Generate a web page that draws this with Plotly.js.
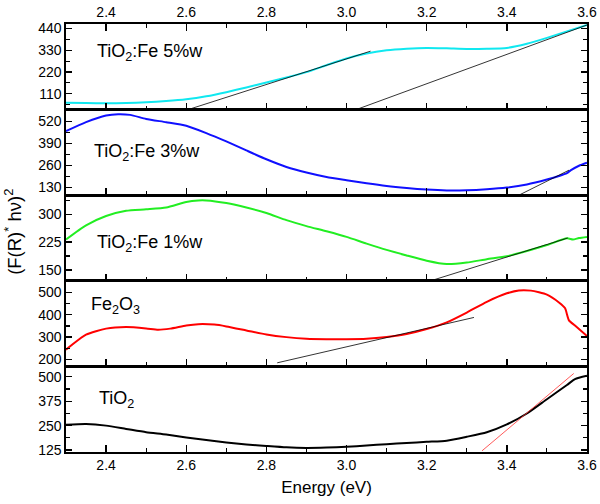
<!DOCTYPE html>
<html>
<head>
<meta charset="utf-8">
<script src="https://cdn.plot.ly/plotly-3.0.1.min.js"></script>
<style>
  body { margin: 0; background: #fff; }
  #chart { width: 600px; height: 504px; }
</style>
</head>
<body>
<div id="chart"></div>
<script>
// Data (energy in eV)
const tio2X = [2.3, 2.35, 2.4, 2.45, 2.5, 2.55, 2.6, 2.65, 2.7, 2.75, 2.8, 2.85, 2.9, 2.95, 3.0, 3.05, 3.1, 3.15, 3.2, 3.25, 3.3, 3.35, 3.4, 3.45, 3.5, 3.55, 3.57, 3.6];
const tio2Y = [254, 258, 250, 233, 216, 204, 189, 176, 164, 154, 146, 139, 136, 138, 142, 148, 155, 161, 167, 173, 193, 216, 256, 312, 385, 458, 488, 505];

const fe2o3X = [2.3, 2.35, 2.4, 2.45, 2.5, 2.53, 2.56, 2.6, 2.63, 2.67, 2.7, 2.75, 2.8, 2.85, 2.9, 2.95, 3.0, 3.05, 3.1, 3.15, 3.2, 3.25, 3.3, 3.35, 3.4, 3.43, 3.46, 3.5, 3.53, 3.545, 3.555, 3.57, 3.6];
const fe2o3Y = [244, 311, 338, 345, 339, 333, 338, 352, 358, 356, 348, 330, 312, 300, 293, 291, 291, 293, 301, 314, 336, 366, 410, 458, 496, 509, 508, 490, 455, 430, 375, 352, 305];

const fe1X = [2.3, 2.35, 2.4, 2.45, 2.5, 2.55, 2.6, 2.63, 2.65, 2.7, 2.75, 2.8, 2.85, 2.9, 2.95, 3.0, 3.05, 3.1, 3.15, 3.2, 3.25, 3.3, 3.35, 3.4, 3.45, 3.5, 3.55, 3.565, 3.58, 3.6];
const fe1Y = [232, 270, 295, 309, 313, 318, 333, 337, 337, 330, 318, 303, 284, 268, 254, 239, 221, 204, 189, 175, 166, 170, 179, 187, 201, 217, 235, 232, 236, 239];

const fe3X = [2.3, 2.35, 2.4, 2.43, 2.46, 2.5, 2.55, 2.6, 2.65, 2.7, 2.75, 2.8, 2.85, 2.9, 2.95, 3.0, 3.05, 3.1, 3.15, 3.2, 3.25, 3.3, 3.35, 3.4, 3.45, 3.5, 3.53, 3.55, 3.56, 3.58, 3.6];
const fe3Y = [461, 514, 553, 561, 557, 533, 514, 493, 450, 401, 348, 296, 251, 218, 192, 173, 155, 139, 127, 118, 113, 114, 120, 130, 148, 177, 198, 215, 232, 258, 276];

const fe5X = [2.3, 2.35, 2.4, 2.45, 2.5, 2.55, 2.6, 2.65, 2.7, 2.75, 2.8, 2.85, 2.9, 2.95, 3.0, 3.05, 3.1, 3.15, 3.2, 3.25, 3.3, 3.35, 3.4, 3.45, 3.5, 3.55, 3.6];
const fe5Y = [65, 63, 62, 63, 67, 73, 82, 97, 118, 142, 167, 192, 219, 254, 288, 313, 329, 337, 341, 339, 336, 337, 341, 362, 392, 425, 457];

// tangent (band gap) lines
const tio2FitX = [3.338, 3.567], tio2FitY = [121, 517];
const fe2o3FitX = [2.827, 3.318], fe2o3FitY = [185, 388];
const fe1FitX = [3.21, 3.552], fe1FitY = [121, 236];
const fe3FitX = [3.43, 3.555], fe3FitY = [85, 232];
const fe5FitAX = [2.6, 3.06], fe5FitAY = [27, 325];
const fe5FitBX = [3.02, 3.6], fe5FitBY = [27, 457];

const labels = ['TiO<sub>2</sub>', 'Fe<sub>2</sub>O<sub>3</sub>', 'TiO<sub>2</sub>:Fe 1%w', 'TiO<sub>2</sub>:Fe 3%w', 'TiO<sub>2</sub>:Fe 5%w'];

const FONT = 'Liberation Sans, Arial, sans-serif';

function curve(x, y, color, n) {
  return {x: x, y: y, type: 'scatter', mode: 'lines', xaxis: n === 1 ? 'x' : 'x' + n, yaxis: n === 1 ? 'y' : 'y' + n,
    line: {color: color, width: 2, shape: 'spline', smoothing: 0.6}, hoverinfo: 'skip'};
}
function fit(x, y, color, n) {
  return {x: x, y: y, type: 'scatter', mode: 'lines', xaxis: n === 1 ? 'x' : 'x' + n, yaxis: n === 1 ? 'y' : 'y' + n,
    line: {color: color, width: 0.8}, hoverinfo: 'skip'};
}

var data = [
  curve(tio2X, tio2Y, '#000000', 1),
  fit(tio2FitX, tio2FitY, '#ff3030', 1),
  curve(fe2o3X, fe2o3Y, '#ff0000', 2),
  fit(fe2o3FitX, fe2o3FitY, '#000000', 2),
  curve(fe1X, fe1Y, '#22ee22', 3),
  fit(fe1FitX, fe1FitY, '#000000', 3),
  curve(fe3X, fe3Y, '#1010ff', 4),
  fit(fe3FitX, fe3FitY, '#000000', 4),
  curve(fe5X, fe5Y, '#10e8f0', 5),
  fit(fe5FitAX, fe5FitAY, '#000000', 5),
  fit(fe5FitBX, fe5FitBY, '#000000', 5)
];

function xAxis(n) {
  var ax = {
    range: [2.3, 3.6], anchor: n === 1 ? 'y' : 'y' + n,
    showline: true, linecolor: '#000', linewidth: 1.6, mirror: true,
    ticks: 'inside', ticklen: 7, tickwidth: 1.3, tickcolor: '#000',
    dtick: 0.2, tick0: 0, tickformat: '.1f',
    minor: {ticks: 'inside', ticklen: 4, tickwidth: 1.1, dtick: 0.1, tickcolor: '#000'},
    showgrid: false, zeroline: false,
    showticklabels: n === 1,
    tickfont: {family: FONT, size: 14, color: '#000'}
  };
  if (n === 1) {
    ax.title = {text: 'Energy (eV)', font: {family: FONT, size: 17, color: '#000'}, standoff: 8};
  }
  if (n === 5) {
    ax.side = 'top';
    ax.mirror = 'ticks';
    ax.showticklabels = true;
  }
  return ax;
}

const yRanges = [[115, 553], [169, 552], [121, 351], [85, 588], [30, 462]];
const yDticks = [125, 100, 75, 130, 110];

function yAxis(n) {
  return {
    domain: [(n - 1) * 0.2, n * 0.2], anchor: n === 1 ? 'x' : 'x' + n,
    range: yRanges[n - 1], dtick: yDticks[n - 1], tick0: 0,
    showline: true, linecolor: '#000', linewidth: 1.6, mirror: 'ticks',
    ticks: 'inside', ticklen: 6, tickwidth: 1.3, tickcolor: '#000',
    minor: {ticks: 'inside', ticklen: 4, tickwidth: 1.1, dtick: yDticks[n - 1] / 2, tickcolor: '#000'},
    showgrid: false, zeroline: false,
    tickfont: {family: FONT, size: 14, color: '#000'}
  };
}

// label positions in each panel's own data units
const labelX = [2.377, 2.357, 2.372, 2.364, 2.372];
const labelY = [383, 441, 221, 338, 319];

var annotations = labels.map(function (t, i) {
  var n = i + 1;
  return {text: t, xref: n === 1 ? 'x' : 'x' + n, yref: n === 1 ? 'y' : 'y' + n,
    x: labelX[i], y: labelY[i], xanchor: 'left', yanchor: 'middle', showarrow: false,
    font: {family: FONT, size: 18, color: '#000'}};
});
annotations.push({
  text: '(F(R)<sup>*</sup> hν)<sup>2</sup>', textangle: -90,
  xref: 'paper', yref: 'paper', x: -0.102, y: 0.514, xanchor: 'center', yanchor: 'middle',
  showarrow: false, font: {family: FONT, size: 18.5, color: '#000'}
});

var layout = {
  width: 600, height: 504,
  margin: {l: 66, r: 13, t: 24, b: 52},
  paper_bgcolor: '#fff', plot_bgcolor: '#fff',
  showlegend: false,
  annotations: annotations
};
for (var n = 1; n <= 5; n++) {
  layout[n === 1 ? 'xaxis' : 'xaxis' + n] = xAxis(n);
  layout[n === 1 ? 'yaxis' : 'yaxis' + n] = yAxis(n);
}

Plotly.newPlot('chart', data, layout, {staticPlot: true});
</script>
</body>
</html>
